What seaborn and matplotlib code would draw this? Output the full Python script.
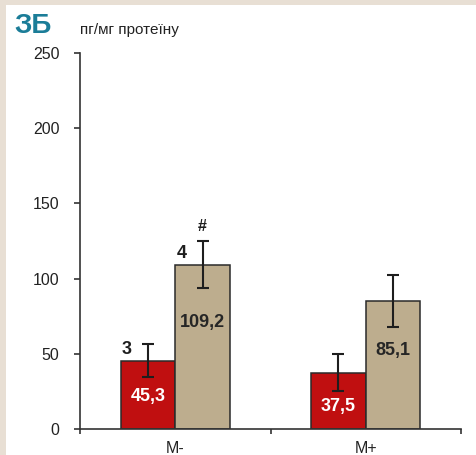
import matplotlib
matplotlib.use("Agg")
import matplotlib.pyplot as plt
import seaborn as sns
import pandas as pd
from matplotlib.patches import Rectangle

# ---- data ----
categories = ["M-", "M+"]
groups = ["group1", "group2"]
values_g1 = [45.3, 37.5]
values_g2 = [109.2, 85.1]
errors_g1 = [11.0, 12.5]
errors_g2 = [15.5, 17.0]
labels_g1 = ["45,3", "37,5"]
labels_g2 = ["109,2", "85,1"]
marks_g1 = ["3", ""]
marks_g2 = ["4", ""]
signif_g2 = ["#", ""]
yticks = [0, 50, 100, 150, 200, 250]
panel_label = "ЗБ"
unit_label = "пг/мг протеїну"

# ---- style ----
RED = "#c00f10"
BEIGE = "#bdad8e"
EDGE = "#2a2a2a"
FRAME = "#e8dfd4"
TEAL = "#1b7d98"

sns.set_style("ticks")
plt.rcParams["font.family"] = ["Liberation Sans", "DejaVu Sans"]
NARROW = ["Liberation Sans Narrow", "Liberation Sans", "DejaVu Sans"]

W, H = 477, 455
fig = plt.figure(figsize=(W / 100, H / 100), dpi=100)
fig.patch.set_facecolor(FRAME)
fig.patches.append(Rectangle((6 / W, 0), 1, 1 - 5 / H, transform=fig.transFigure,
                             facecolor="white", edgecolor="none", zorder=-10))

ax = fig.add_axes([80 / W, 1 - 429 / H, (461 - 80) / W, (429 - 53) / H])
ax.set_facecolor("none")

df = pd.DataFrame({
    "category": categories * 2,
    "group": [groups[0]] * len(categories) + [groups[1]] * len(categories),
    "value": values_g1 + values_g2,
})

sns.barplot(data=df, x="category", y="value", hue="group", order=categories,
            hue_order=groups, palette=[RED, BEIGE], saturation=1, width=0.574,
            errorbar=None, edgecolor=EDGE, linewidth=1.1, legend=False, ax=ax,
            zorder=2)

series = [
    (values_g1, errors_g1, labels_g1, marks_g1, None, "white", [0.475, 0.395]),
    (values_g2, errors_g2, labels_g2, marks_g2, signif_g2, "#262626", [0.646, 0.611]),
]
for cont, (vals, errs, labs, marks, sig, tcol, fracs) in zip(ax.containers, series):
    xs = [r.get_x() + r.get_width() / 2 for r in cont]
    lefts = [r.get_x() for r in cont]
    ax.errorbar(xs, vals, yerr=errs, fmt="none", ecolor="#1e1e1e", elinewidth=1.5,
                capsize=4, capthick=1.5, zorder=3)
    for i, r in enumerate(cont):
        ax.text(xs[i], vals[i] * fracs[i], labs[i], ha="center", va="center",
                color=tcol, fontsize=13, fontweight="bold", family=NARROW, zorder=4)
        if marks[i]:
            ax.text(lefts[i] + 0.007, vals[i] + 4.7, marks[i], ha="left", va="baseline",
                    color="#1e1e1e", fontsize=13, fontweight="bold", family=NARROW)
        if sig and sig[i]:
            ax.text(xs[i], vals[i] + errs[i] + 7, sig[i], ha="center", va="baseline",
                    color="#1e1e1e", fontsize=11.5, fontweight="bold", family=NARROW)

ax.set_xlim(-0.5, len(categories) - 0.5)
ax.set_ylim(0, 250)
ax.set_yticks(yticks)
ax.set_yticklabels([str(t) for t in yticks])
ax.set_xticks(range(len(categories)))
ax.set_xticklabels(categories)
ax.set_xticks([i - 0.5 for i in range(len(categories) + 1)], minor=True)
ax.set_xlabel("")
ax.set_ylabel("")

for s in ["top", "right"]:
    ax.spines[s].set_visible(False)
for s in ["left", "bottom"]:
    ax.spines[s].set_color("#333333")
    ax.spines[s].set_linewidth(1.2)

ax.tick_params(axis="y", direction="out", length=4.3, width=1.2, color="#333333",
               pad=10.5, labelsize=11.5, labelcolor="#222222")
ax.tick_params(axis="x", which="major", length=0, pad=8.5, labelsize=11.5,
               labelcolor="#222222")
ax.tick_params(axis="x", which="minor", direction="out", length=3.6, width=1.2,
               color="#333333")

fig.text(14 / W, 1 - 33 / H, panel_label, ha="left", va="baseline", color=TEAL,
         fontsize=20, fontweight="bold", family=NARROW)
fig.text(80 / W, 1 - 34 / H, unit_label, ha="left", va="baseline", color="#222222",
         fontsize=11)

fig.savefig("out.png", dpi=100, facecolor=fig.get_facecolor())
